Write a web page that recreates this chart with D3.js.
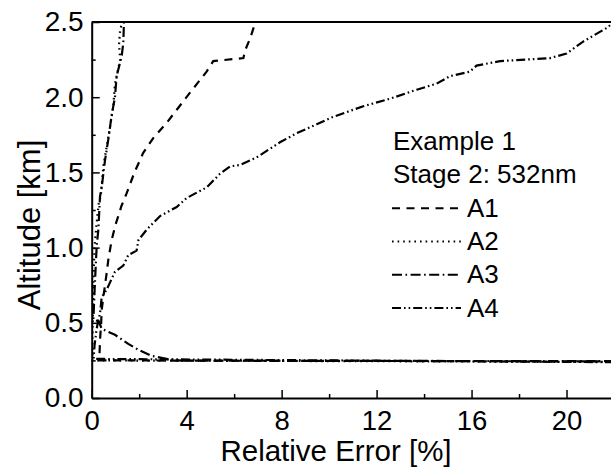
<!DOCTYPE html>
<html>
<head>
<meta charset="utf-8">
<script src="https://cdn.jsdelivr.net/npm/d3@7"></script>
<style>
  body { margin: 0; background: #fff; }
  text { font-family: "Liberation Sans", Arial, sans-serif; fill: #000; }
</style>
</head>
<body>
<div id="graphic"></div>
<script>
// relative error [%] and altitude [km], bottom to top
const a1Err = [22, 0.32, 0.34, 0.35, 0.40, 0.42, 0.49, 0.56, 0.63, 0.70, 0.84, 1.0, 1.26, 1.47, 1.8, 2.17, 2.6, 3.16, 3.6, 4.14, 4.84, 5.12, 6.39, 6.46, 6.67, 6.88, 6.95];
const a1Alt = [0.243, 0.25, 0.34, 0.385, 0.50, 0.585, 0.67, 0.75, 0.83, 0.92, 1.05, 1.15, 1.28, 1.36, 1.50, 1.63, 1.73, 1.83, 1.92, 2.03, 2.17, 2.24, 2.26, 2.31, 2.39, 2.49, 2.5];

const a2Err = [22, 0.03, 0.03, 0.05, 0.07, 0.12, 0.2, 0.3, 0.38, 0.49, 0.63, 0.77, 0.91, 0.98, 1.05, 1.2, 1.15, 1.2, 1.3];
const a2Alt = [0.24, 0.25, 0.4, 0.56, 0.78, 1.0, 1.15, 1.3, 1.34, 1.54, 1.67, 1.80, 1.94, 2.09, 2.14, 2.25, 2.35, 2.45, 2.5];

const a3Err = [22, 3.79, 3.23, 2.53, 1.97, 1.54, 0.98, 0.42, 0.3, 0.07, 0.14, 0.21, 0.28, 0.35, 0.42, 0.56, 0.70, 0.84, 0.98, 1.05, 1.26, 1.33, 1.36];
const a3Alt = [0.245, 0.248, 0.257, 0.28, 0.32, 0.36, 0.42, 0.46, 0.51, 0.52, 0.78, 1.01, 1.12, 1.34, 1.40, 1.58, 1.72, 1.88, 2.0, 2.14, 2.27, 2.36, 2.5];

const a4Err = [22, 0.08, 0.12, 0.2, 0.28, 0.35, 0.42, 0.63, 0.98, 1.33, 1.54, 1.89, 1.97, 2.32, 2.88, 3.58, 4.0, 4.84, 5.40, 5.83, 6.25, 6.95, 7.93, 8.63, 9.48, 10.18, 11.44, 12.57, 13.69, 14.53, 15.09, 15.93, 16.21, 17.2, 19.3, 20.0, 20.7, 21.69, 22];
const a4Alt = [0.238, 0.26, 0.35, 0.45, 0.52, 0.56, 0.67, 0.72, 0.84, 0.88, 0.95, 0.98, 1.05, 1.12, 1.21, 1.27, 1.33, 1.40, 1.49, 1.54, 1.55, 1.60, 1.70, 1.76, 1.82, 1.87, 1.94, 1.99, 2.05, 2.09, 2.14, 2.17, 2.21, 2.24, 2.26, 2.29, 2.37, 2.46, 2.5];

const seriesNames = ["A1", "A2", "A3", "A4"];
const seriesDash = ["8,6.5", "1.6,4", "10,3.5,1.6,3.5", "9,3,1.6,3,1.6,3"];
const legendTitle = ["Example 1", "Stage 2: 532nm"];

const xTicks = [0, 4, 8, 12, 16, 20];
const xMinor = [2, 6, 10, 14, 18];
const yTicks = [0.0, 0.5, 1.0, 1.5, 2.0, 2.5];
const yMinor = [0.25, 0.75, 1.25, 1.75, 2.25];

// set the dimensions and margins of the plot
const graphicWidth = 611;
const graphicHeight = 472;
const margin = {top: 22, left: 91.7};
const plotWidth = 522.3;
const plotHeight = 376;

var svg = d3.select("#graphic")
    .append("svg")
    .attr("width", graphicWidth)
    .attr("height", graphicHeight);

var plotSvg = svg.append("g")
    .attr("transform", "translate(" + margin.left + "," + margin.top + ")");

const x = d3.scaleLinear().domain([0, 22]).range([0, plotWidth]);
const y = d3.scaleLinear().domain([0, 2.5]).range([plotHeight, 0]);

plotSvg.append("clipPath")
    .attr("id", "clip")
    .append("rect")
    .attr("width", plotWidth)
    .attr("height", plotHeight);

// minor ticks
plotSvg.append("g")
    .attr("transform", "translate(0," + plotHeight + ")")
    .call(d3.axisBottom(x).tickValues(xMinor).tickSizeInner(-4).tickSizeOuter(0).tickFormat(""))
    .call(g => g.select(".domain").remove());
plotSvg.append("g")
    .call(d3.axisLeft(y).tickValues(yMinor).tickSizeInner(-4).tickSizeOuter(0).tickFormat(""))
    .call(g => g.select(".domain").remove());

// major ticks and labels
var xAxis = plotSvg.append("g")
    .attr("transform", "translate(0," + plotHeight + ")")
    .call(d3.axisBottom(x).tickValues(xTicks).tickSizeInner(-8).tickSizeOuter(0).tickPadding(12).tickFormat(d3.format("d")));
var yAxis = plotSvg.append("g")
    .call(d3.axisLeft(y).tickValues(yTicks).tickSizeInner(-8).tickSizeOuter(0).tickPadding(8).tickFormat(d3.format(".1f")));

plotSvg.selectAll(".tick line").attr("stroke", "#000").attr("stroke-width", 1.5);
plotSvg.selectAll(".domain").attr("stroke", "#000").attr("stroke-width", 2);
plotSvg.selectAll(".tick text")
    .attr("font-family", "Liberation Sans, Arial, sans-serif")
    .attr("font-size", 28)
    .attr("fill", "#000");
xAxis.selectAll(".tick text").attr("font-size", 27.5);

// top border
plotSvg.append("line")
    .attr("x1", 0).attr("x2", plotWidth)
    .attr("y1", 0).attr("y2", 0)
    .attr("stroke", "#000").attr("stroke-width", 2);

// axis titles
svg.append("text")
    .attr("x", 336).attr("y", 461)
    .attr("text-anchor", "middle")
    .attr("font-size", 29.5)
    .text("Relative Error [%]");
svg.append("text")
    .attr("transform", "translate(40,225) rotate(-90)")
    .attr("text-anchor", "middle")
    .attr("font-size", 31)
    .text("Altitude [km]");

// the curves
const allErr = [a1Err, a2Err, a3Err, a4Err];
const allAlt = [a1Alt, a2Alt, a3Alt, a4Alt];
const line = d3.line()
    .x(d => x(d[0]))
    .y(d => y(d[1]));

var curves = plotSvg.append("g").attr("clip-path", "url(#clip)");
seriesNames.forEach(function(name, i) {
    const pts = allErr[i].map((e, j) => [e, allAlt[i][j]]);
    curves.append("path")
        .datum(pts)
        .attr("fill", "none")
        .attr("stroke", "#000")
        .attr("stroke-width", 2.2)
        .attr("stroke-dasharray", seriesDash[i])
        .attr("d", line);
});

// legend
var legend = svg.append("g").attr("font-size", 26);
legendTitle.forEach(function(t, i) {
    legend.append("text")
        .attr("x", 393).attr("y", 150 + i * 33.3)
        .text(t);
});
seriesNames.forEach(function(name, i) {
    const yy = 216.7 + i * 33.3;
    legend.append("line")
        .attr("x1", 392).attr("x2", 461)
        .attr("y1", yy - 8.5).attr("y2", yy - 8.5)
        .attr("stroke", "#000")
        .attr("stroke-width", 2)
        .attr("stroke-dasharray", seriesDash[i]);
    legend.append("text")
        .attr("x", 467).attr("y", yy)
        .text(name);
});
</script>
</body>
</html>
